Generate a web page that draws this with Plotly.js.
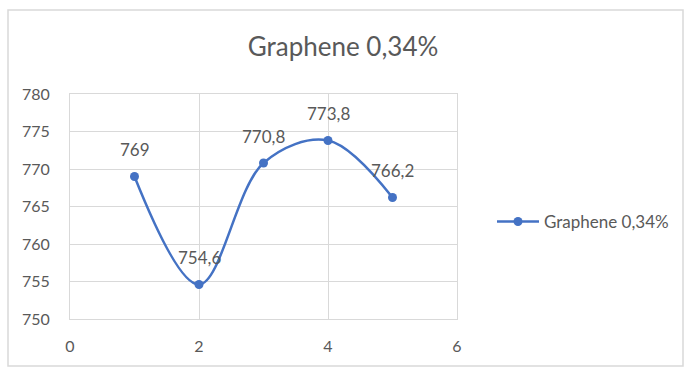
<!DOCTYPE html>
<html>
<head>
<meta charset="utf-8">
<script src="https://cdn.plot.ly/plotly-3.0.1.min.js"></script>
<style>html,body{margin:0;padding:0;background:#fff;}#chart{width:686px;height:368px;}</style>
</head>
<body>
<div id="chart"></div>
<script>
var seriesName = "Graphene 0,34%";
var xValues = [1, 2, 3, 4, 5];
var yValues = [769, 754.6, 770.8, 773.8, 766.2];
var labelTexts = ["769", "754,6", "770,8", "773,8", "766,2"];
var xTicks = [0, 2, 4, 6];
var yTicks = [750, 755, 760, 765, 770, 775, 780];

var blue = "#4472C4";
var grey = "#595959";
var font = "Lato, 'Open Sans', sans-serif";

var trace = {
  x: xValues, y: yValues, name: seriesName,
  type: "scatter", mode: "lines+markers",
  line: {color: blue, width: 2.5, shape: "spline", smoothing: 1},
  marker: {color: blue, size: 9},
  hoverinfo: "none"
};

var annotations = xValues.map(function (xv, i) {
  return {x: xv, y: yValues[i], xref: "x", yref: "y", text: labelTexts[i],
    showarrow: false, yshift: 27, font: {family: font, size: 17, color: grey}};
});

var layout = {
  width: 686, height: 368,
  margin: {l: 70, r: 229, t: 94, b: 49},
  paper_bgcolor: "#fff", plot_bgcolor: "#fff",
  font: {family: font, color: grey},
  title: {text: seriesName, x: 0.5, xref: "container", y: 1 - 47 / 368, yref: "container",
    xanchor: "center", yanchor: "middle", font: {family: font, size: 26, color: grey}},
  xaxis: {range: [0, 6], tickvals: xTicks, ticktext: xTicks.map(String), showgrid: true,
    gridcolor: "#d9d9d9", gridwidth: 1, zeroline: false, showline: true, mirror: true,
    linecolor: "#d9d9d9", linewidth: 1, ticks: "",
    ticklabelstandoff: 13, tickfont: {family: font, size: 16, color: grey}, fixedrange: true},
  yaxis: {range: [750, 780], tickvals: yTicks, ticktext: yTicks.map(String), showgrid: true,
    gridcolor: "#d9d9d9", gridwidth: 1, zeroline: false, showline: true, mirror: true,
    linecolor: "#d9d9d9", linewidth: 1, ticks: "",
    ticklabelstandoff: 16, tickfont: {family: font, size: 16, color: grey}, fixedrange: true},
  showlegend: true,
  legend: {x: (492 - 70) / 387, xanchor: "left", y: (319 - 222) / 225, yanchor: "middle",
    font: {family: font, size: 17, color: grey}, itemwidth: 42, bgcolor: "rgba(0,0,0,0)"},
  annotations: annotations,
  shapes: [{type: "rect", xref: "paper", yref: "paper",
    x0: (8 - 70) / 387, x1: (683 - 70) / 387, y0: (319 - 366) / 225, y1: (319 - 10) / 225,
    line: {color: "#d9d9d9", width: 1.5}, fillcolor: "rgba(0,0,0,0)", layer: "below"}]
};

Plotly.newPlot("chart", [trace], layout, {displayModeBar: false, staticPlot: true});
</script>
</body>
</html>
